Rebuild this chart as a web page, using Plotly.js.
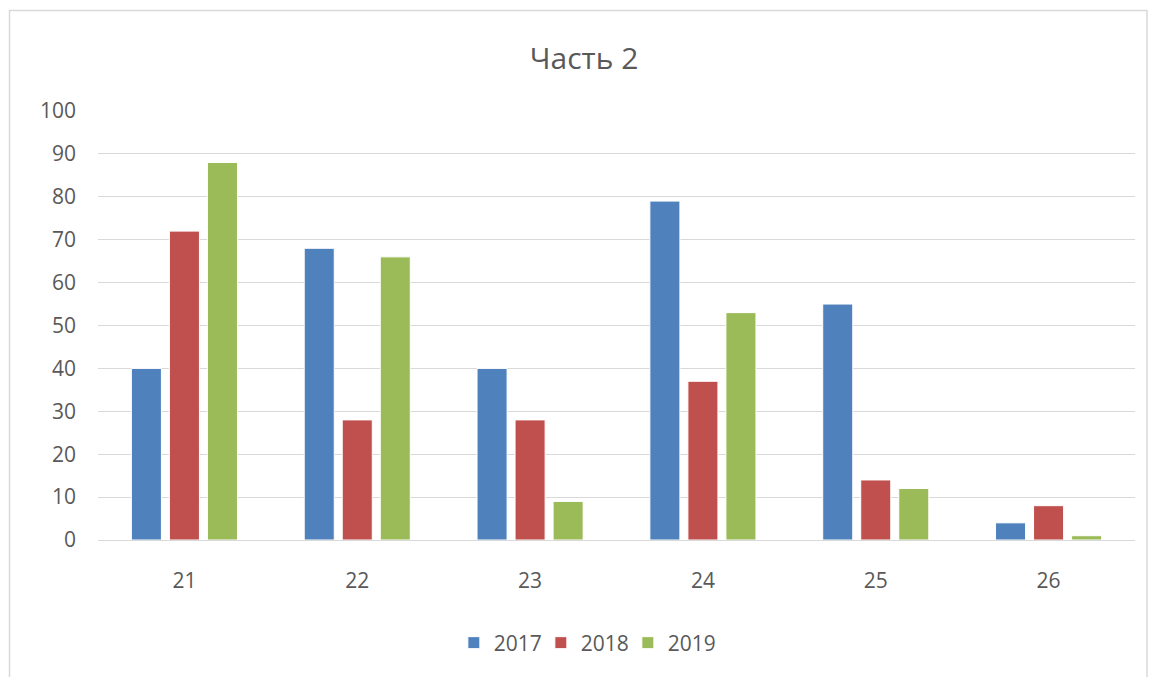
<!DOCTYPE html>
<html>
<head>
<meta charset="utf-8">
<script src="https://cdn.plot.ly/plotly-3.0.1.min.js"></script>
<style>html,body{margin:0;padding:0;background:#fff;}#chart{width:1152px;height:677px;}</style>
</head>
<body>
<div id="chart"></div>
<script>
const categories = ["21", "22", "23", "24", "25", "26"];
const series2017 = [40, 68, 40, 79, 55, 4];
const series2018 = [72, 28, 28, 37, 14, 8];
const series2019 = [88, 66, 9, 53, 12, 1];
const seriesNames = ["2017", "2018", "2019"];
const colors = ["#4F81BD", "#C0504D", "#9BBB59"];
const yTicks = [0, 10, 20, 30, 40, 50, 60, 70, 80, 90, 100];

const font = "Open Sans, Noto Sans, sans-serif";
const data = [series2017, series2018, series2019].map((vals, i) => ({
  type: "bar",
  x: categories,
  y: vals,
  name: seriesNames[i],
  marker: {color: colors[i], line: {color: "#ffffff", width: 1}}
}));

const layout = {
  width: 1152, height: 677,
  margin: {l: 98, r: 17, t: 111, b: 137},
  paper_bgcolor: "#ffffff", plot_bgcolor: "#ffffff",
  font: {family: font, size: 21, color: "#595959"},
  title: {text: "Часть 2", font: {family: font, size: 30, color: "#595959"},
          x: 584/1152, xref: "container", xanchor: "center",
          y: 1 - 58/677, yref: "container", yanchor: "middle"},
  barmode: "group", bargap: 0.34, bargroupgap: 0.21,
  xaxis: {type: "category", showgrid: false, showline: false, zeroline: false,
          ticks: "", ticklabelstandoff: 26, tickfont: {size: 21, color: "#595959"}},
  yaxis: {range: [0, 100], tickvals: yTicks, showgrid: true, gridcolor: "#d9d9d9",
          gridwidth: 1, zeroline: true, zerolinecolor: "#d9d9d9", zerolinewidth: 1,
          showline: false, ticks: "", ticklabelstandoff: 21,
          tickfont: {size: 21, color: "#595959"}},
  showlegend: true,
  legend: {orientation: "h", x: 0.469, xanchor: "center", y: (540-643)/429, yanchor: "middle",
           font: {size: 21, color: "#595959"}, itemwidth: 30, traceorder: "normal",
           entrywidth: 42, entrywidthmode: "pixels"},
  shapes: [{type: "rect", xref: "paper", yref: "paper",
            x0: (9.5-98)/1037, x1: (1147-98)/1037, y0: (540-700)/429, y1: (540-10.5)/429,
            line: {color: "#d9d9d9", width: 1.5}, fillcolor: "rgba(0,0,0,0)", layer: "below"}]
};

Plotly.newPlot("chart", data, layout, {displayModeBar: false, staticPlot: true});
</script>
</body>
</html>
